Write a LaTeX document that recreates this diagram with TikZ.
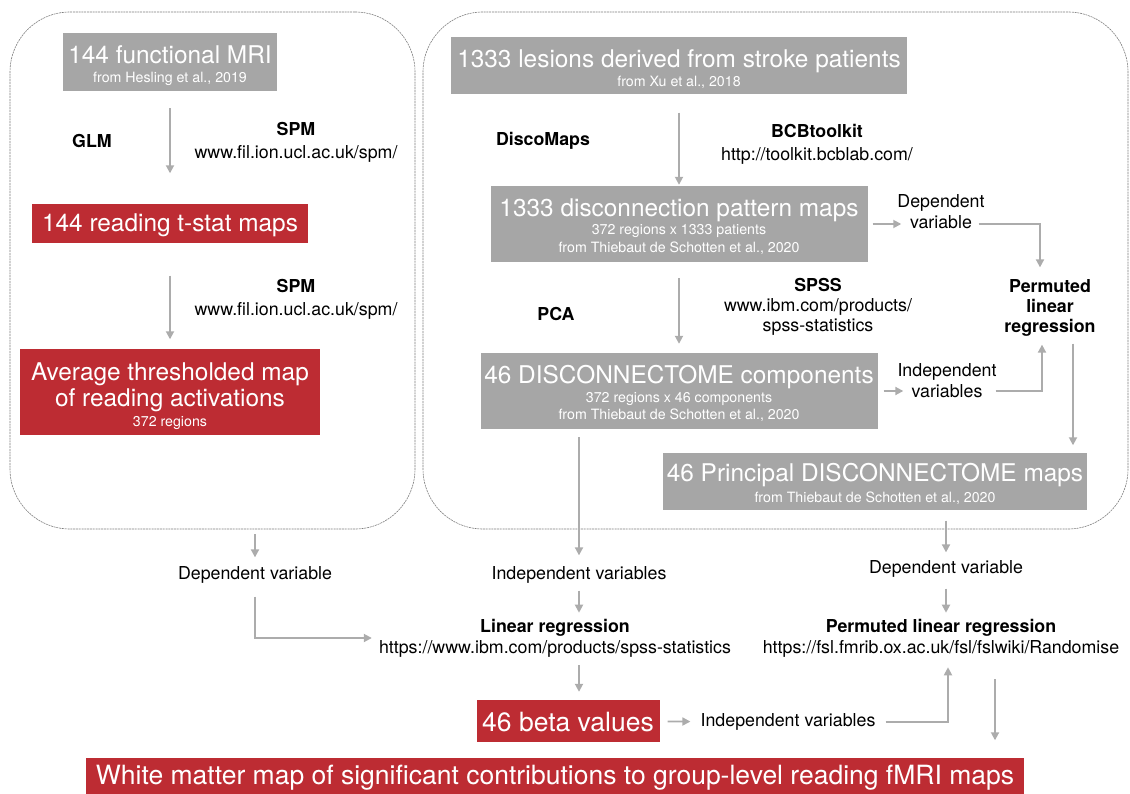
\documentclass[tikz,border=0pt]{standalone}
\usepackage{fontspec}
\setmainfont{TeX Gyre Heros}
\usetikzlibrary{arrows.meta}
\definecolor{boxgray}{RGB}{166,166,166}
\definecolor{boxred}{RGB}{189,44,51}
\definecolor{linkgray}{RGB}{172,172,172}
\definecolor{panelgray}{RGB}{125,125,125}
\newcommand{\boxtitle}{\fontsize{24.4}{26}\selectfont}
\newcommand{\bigtitle}{\fontsize{26.5}{28}\selectfont}
\newcommand{\boxsub}{\fontsize{14.2}{18}\selectfont}
\newcommand{\labtext}{\fontsize{17.8}{21}\selectfont}
\newcommand{\lift}[1]{\rule{0pt}{#1}}

\begin{document}
\begin{tikzpicture}[x=1pt,y=-1pt,
  panel/.style={draw=panelgray,line width=0.6pt,dash pattern=on 2pt off 0.8pt,rounded corners=60pt,inner sep=0pt},
  graybox/.style={fill=boxgray,text=white,align=center,inner sep=0pt,font=\boxsub},
  redbox/.style={fill=boxred,text=white,align=center,inner sep=0pt,font=\boxsub},
  lab/.style={font=\labtext,align=center,inner sep=0pt},
  tool/.style={font=\labtext\bfseries,align=center,inner sep=0pt},
  flow/.style={draw=linkgray,line width=1.8pt,-{Triangle[length=8pt,width=8pt]}}]
\useasboundingbox (0,0) rectangle (1130,794);

% panels
\node[panel,minimum width=405,minimum height=517] (leftpanel) at (212.5,270.5) {};
\node[panel,minimum width=705,minimum height=517] (rightpanel) at (775.5,270.5) {};

% fMRI side
\node[graybox,minimum width=214,minimum height=58] (fmri) at (170,62) {{\boxtitle\lift{25pt}144 functional MRI}\\[1pt]from Hesling et al., 2019};
\node[tool] (glm) at (92,141) {GLM};
\node[lab] (spmA) at (296,142) {\textbf{SPM}\\[2pt]www.fil.ion.ucl.ac.uk/spm/};
\node[redbox,minimum width=276,minimum height=39] (tstat) at (170,224) {\boxtitle\lift{21pt}144 reading t-stat maps};
\node[lab] (spmB) at (296,299) {\textbf{SPM}\\[2pt]www.fil.ion.ucl.ac.uk/spm/};
\node[redbox,minimum width=300,minimum height=85] (avgmap) at (170,392) {{\boxtitle\lift{26pt}Average thresholded map}\\[2.2pt]{\boxtitle of reading activations}\\[2.4pt]372 regions};

% lesion side
\node[graybox,minimum width=456,minimum height=57] (lesions) at (679,66) {{\boxtitle\lift{24pt}1333 lesions derived from stroke patients}\\[1.4pt]from Xu et al., 2018};
\node[tool] (discomaps) at (543,141) {DiscoMaps};
\node[lab] (bcb) at (817,144) {\textbf{BCBtoolkit}\\[2pt]http://toolkit.bcblab.com/};
\node[graybox,minimum width=377,minimum height=76] (discmaps) at (679,224) {{\boxtitle\lift{23pt}1333 disconnection pattern maps}\\[0.4pt]372 regions x 1333 patients\\from Thiebaut de Schotten et al., 2020};
\node[lab] (depvarA) at (941,212) {Dependent\\variable};
\node[tool] (permuted) at (1050,308) {Permuted\\[-1pt]linear\\[-1pt]regression};
\node[tool] (pca) at (556,314) {PCA};
\node[lab] (spss) at (818,307) {\textbf{SPSS}\\[-1pt]www.ibm.com/products/\\[-1pt]spss-statistics};
\node[graybox,minimum width=397,minimum height=76] (comps) at (679,391) {{\boxtitle\lift{23pt}46 DISCONNECTOME components}\\[1.4pt]372 regions x 46 components\\[-1pt]from Thiebaut de Schotten et al., 2020};
\node[lab] (indvarA) at (947,381) {Independent\\variables};
\node[graybox,minimum width=424,minimum height=57] (principal) at (875,481) {{\boxtitle\lift{24pt}46 Principal DISCONNECTOME maps}\\[3.4pt]from Thiebaut de Schotten et al., 2020};

% regressions
\node[lab] (depvarB) at (255,575) {Dependent variable};
\node[lab] (indvarB) at (579,575) {Independent variables};
\node[lab] (linreg) at (555,638) {\textbf{Linear regression}\\https://www.ibm.com/products/spss-statistics};
\node[redbox,minimum width=183,minimum height=42] (beta) at (568,721) {\bigtitle\lift{21pt}46 beta values};
\node[lab] (indvarC) at (788,722) {Independent variables};
\node[lab] (depvarC) at (946,569) {Dependent variable};
\node[lab] (permlin) at (941,638) {\textbf{Permuted linear regression}\\https://fsl.fmrib.ox.ac.uk/fsl/fslwiki/Randomise};
\node[redbox,minimum width=938,minimum height=37] (whitematter) at (555,776) {\bigtitle\lift{22pt}White matter map of significant contributions to group-level reading fMRI maps};

% arrows
\draw[flow,shorten <=17pt,shorten >=31pt] (fmri) -- (tstat);
\draw[flow,shorten <=32pt,shorten >=10pt] (tstat) -- (avgmap);
\draw[flow,shorten <=18pt,shorten >=1pt] (lesions) -- (discmaps);
\draw[flow,shorten <=16pt,shorten >=9pt] (discmaps) -- (comps);
\draw[flow,shorten <=5pt] (discmaps.east) -- ([xshift=4pt]depvarA.west |- discmaps.east);
\draw[flow,shorten >=12pt] ([xshift=-6pt]depvarA.east |- discmaps.east) -| ([xshift=-10pt]permuted.north);
\draw[flow,shorten <=6pt] (comps.east) -- ([xshift=6pt]indvarA.west |- comps.east);
\draw[flow,shorten >=8pt] ([xshift=-1pt]indvarA.east |- comps.east) -| ([xshift=-8pt]permuted.south);
\draw[flow,shorten <=7pt,shorten >=7pt] ([xshift=23pt]permuted.south) -- ([xshift=23pt]permuted.south |- principal.north);
\draw[flow,shorten <=5pt,shorten >=9pt] (leftpanel.south -| depvarB) -- (depvarB);
\draw[flow,shorten <=13pt,shorten >=7pt] (depvarB) |- (linreg.west);
\draw[flow,shorten <=8pt,shorten >=11pt] (indvarB |- comps.south) -- (indvarB);
\draw[flow,shorten <=7pt,shorten >=6pt] (indvarB) -- (indvarB |- linreg.north);
\draw[flow,shorten <=8pt,shorten >=8pt] (indvarB |- linreg.south) -- (indvarB |- beta.north);
\draw[flow,shorten <=8pt,shorten >=10pt] (beta) -- (indvarC);
\draw[flow,shorten <=10pt,shorten >=10pt] (indvarC) -| ([xshift=7pt]permlin.south);
\draw[flow,shorten <=11pt,shorten >=8pt] (principal.south -| depvarC) -- (depvarC);
\draw[flow,shorten <=11pt,shorten >=6pt] (depvarC) -- (depvarC |- permlin.north);
\draw[flow,shorten <=22pt,shorten >=17pt] ([xshift=54pt]permlin.south) -- ([xshift=54pt]permlin.south |- whitematter.north);
\end{tikzpicture}
\end{document}
